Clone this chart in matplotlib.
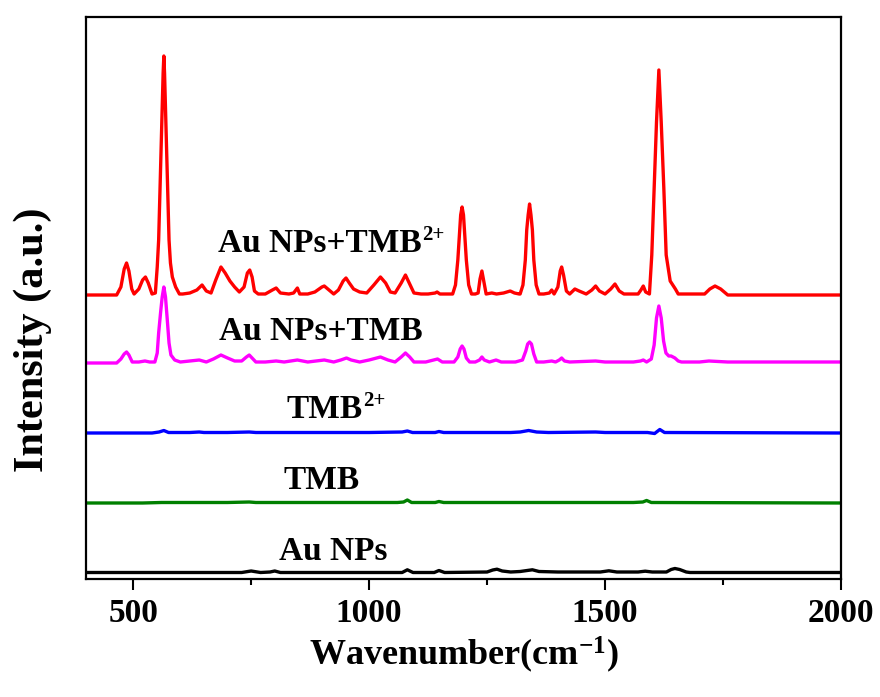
import matplotlib
matplotlib.use("Agg")
import matplotlib.pyplot as plt
from matplotlib.ticker import MultipleLocator, NullLocator

plt.rcParams['font.family'] = ['Liberation Serif', 'DejaVu Serif']
plt.rcParams['font.weight'] = 'bold'
plt.rcParams['mathtext.fontset'] = 'custom'
plt.rcParams['mathtext.rm'] = 'Liberation Serif:bold'
plt.rcParams['mathtext.bf'] = 'Liberation Serif:bold'
plt.rcParams['mathtext.it'] = 'Liberation Serif:bold'
plt.rcParams['mathtext.default'] = 'rm'

# ---------------------------------------------------------------
# Raman spectra: (wavenumber, intensity above
# the trace's own baseline), plus the vertical offset of each trace
# ---------------------------------------------------------------
au_tmb2_w = [400, 465, 474, 481, 486, 491, 497, 502, 512, 520, 526, 532, 540, 547, 551,
             554, 558, 562, 563.5, 565, 566.5, 568, 572, 576, 579, 583, 590, 598, 605, 620,
             635, 646, 655, 665, 675, 686, 695, 705, 715, 725, 735, 742, 747, 752, 757,
             765, 780, 795, 803, 812, 830, 840, 848, 853, 870, 885, 900, 905, 915, 925,
             935, 945, 951, 958, 967, 980, 995, 1010, 1024, 1035, 1045, 1055, 1068, 1077, 1085,
             1095, 1110, 1125, 1140, 1144, 1150, 1177, 1183, 1188, 1192, 1194, 1197, 1200, 1202, 1206,
             1211, 1217, 1225, 1231, 1235, 1239, 1243, 1248, 1260, 1270, 1285, 1299, 1308, 1318, 1320,
             1326, 1331, 1334, 1337, 1340, 1343, 1346, 1349, 1354, 1360, 1370, 1382, 1387, 1392, 1400,
             1405, 1408, 1412, 1418, 1425, 1436, 1445, 1460, 1472, 1480, 1488, 1500, 1512, 1521, 1530,
             1540, 1570, 1576, 1581, 1586, 1594, 1599, 1604, 1609, 1611.5, 1614, 1616.5, 1619, 1624.5, 1629.5,
             1638, 1649, 1655, 1670, 1711, 1722, 1733, 1745, 1760, 2000]
au_tmb2_i = [0, 0, 8, 26, 32, 24, 6, 1, 6, 15, 18, 12, 1, 2, 28,
             55, 125, 195, 222, 239, 222, 195, 125, 55, 32, 18, 8, 1, 1, 2,
             5, 10, 4, 2, 15, 28, 22, 14, 8, 3, 8, 22, 25, 18, 4,
             1, 1, 5, 7, 2, 1, 2, 7, 1, 1, 3, 8, 9, 5, 1,
             5, 14, 17, 12, 6, 3, 2, 10, 18, 12, 3, 2, 12, 20, 12,
             2, 1, 1, 2, 3, 1, 1, 10, 35, 65, 80, 88, 80, 65, 35,
             10, 1, 1, 2, 16, 24, 14, 1, 2, 1, 2, 4, 2, 1, 1,
             10, 35, 65, 80, 91, 80, 65, 35, 10, 1, 1, 2, 5, 1, 8,
             24, 28, 20, 4, 1, 6, 4, 1, 5, 9, 4, 1, 6, 11, 4,
             1, 1, 5, 9, 3, 1, 40, 107, 173, 200, 225, 200, 173, 107, 40,
             14, 6, 1, 1, 1, 6, 9, 6, 0, 0]

au_tmb_w = [400, 465, 474, 481, 486, 491, 498, 512, 525, 535, 546, 551, 554, 558, 561.5,
            565, 568.5, 572, 576, 580, 588, 600, 620, 640, 655, 670, 686, 700, 715, 730,
            740, 746, 752, 760, 780, 803, 820, 848, 870, 905, 925, 940, 952, 962, 980,
            1000, 1024, 1040, 1055, 1068, 1077, 1086, 1095, 1120, 1145, 1155, 1180, 1188, 1193, 1197,
            1201, 1206, 1213, 1225, 1234, 1239, 1244, 1255, 1269, 1280, 1310, 1325, 1332, 1336, 1340,
            1344, 1349, 1355, 1370, 1387, 1395, 1403, 1408, 1414, 1425, 1480, 1500, 1560, 1575, 1581,
            1588, 1598, 1604, 1609, 1614, 1619, 1624, 1629, 1635, 1640, 1648, 1655, 1662, 1700, 1720,
            1760, 1850, 2000]
au_tmb_i = [0, 0, 4, 9, 11, 8, 1, 1, 2, 1, 1, 10, 30, 50, 66,
            76, 66, 45, 20, 8, 3, 1, 2, 3, 1, 4, 8, 5, 2, 2,
            6, 8, 5, 1, 1, 2, 1, 3, 1, 3, 1, 3, 5, 3, 1,
            3, 6, 3, 1, 6, 10, 6, 1, 1, 4, 1, 1, 6, 14, 17,
            14, 5, 1, 1, 3, 6, 3, 1, 3, 1, 1, 3, 12, 19, 21,
            19, 9, 1, 1, 2, 1, 3, 5, 2, 1, 2, 1, 1, 2, 3,
            1, 4, 18, 45, 57, 45, 22, 10, 7, 7, 5, 2, 1, 1, 2,
            1, 1, 1]

tmb2_w = [400, 540, 555, 565, 575, 620, 640, 650, 700, 746, 760, 900, 1000, 1070, 1081,
          1092, 1140, 1148, 1158, 1300, 1320, 1338, 1355, 1380, 1480, 1500, 1590, 1605, 1616, 1626,
          2000]
tmb2_i = [0, 0, 1, 2.5, 0.5, 0.5, 1, 0.5, 0.5, 1, 0.5, 0.5, 0.5, 1, 2,
          0.5, 0.5, 1.5, 0.5, 0.5, 1, 2.5, 1, 0.5, 1, 0.5, 0.5, -0.5, 3.5, 0.5,
          0]

tmb_w = [400, 520, 560, 570, 700, 746, 760, 1060, 1073, 1081, 1090, 1140, 1148, 1158, 1560,
         1580, 1588, 1598, 2000]
tmb_i = [0, 0, 0.5, 0.5, 0.5, 1, 0.5, 0.5, 1, 3, 0.5, 0.5, 1.5, 0.5, 0.5,
         1, 2.5, 0.5, 0]

au_w = [400, 730, 750, 770, 790, 800, 812, 1070, 1081, 1093, 1138, 1148, 1160, 1250, 1262,
        1271, 1282, 1300, 1320, 1335, 1346, 1360, 1400, 1490, 1508, 1525, 1570, 1585, 1600, 1630,
        1640, 1648, 1658, 1672, 1680, 2000]
au_i = [0, 0, 1.5, 0, 0.5, 1.5, 0, 0, 2.7, 0, 0, 2, 0, 0.5, 2.5,
        3.3, 1.5, 0.5, 1, 2, 2.7, 1, 0.5, 0.5, 1.7, 0.5, 0.5, 1.3, 0.5, 0.5,
        3, 4, 3, 0.5, 0, 0]

offsets = [284, 216, 146, 76, 6.5]
colors = ['#ff0000', '#ff00ff', '#0000ff', '#008000', '#000000']
labels = ['Au NPs+TMB', 'Au NPs+TMB', 'TMB', 'TMB', 'Au NPs']
label_sup = ['2+', '', '2+', '', '']
label_x = [680, 681, 824, 818, 808]
label_y = [327, 239, 161, 90, 19]

xticks = [500, 1000, 1500, 2000]
xtick_labels = ['500', '1000', '1500', '2000']

spectra = [(au_tmb2_w, au_tmb2_i), (au_tmb_w, au_tmb_i), (tmb2_w, tmb2_i),
           (tmb_w, tmb_i), (au_w, au_i)]

fig = plt.figure(figsize=(8.8, 6.97), dpi=100)
ax = fig.add_axes([0.0977, 0.1693, 0.858, 0.8063])

for (w, inten), off, c in zip(spectra, offsets, colors):
    ax.plot(w, [v + off for v in inten], color=c, lw=2.4, solid_joinstyle='round')

# labels; the superscript is hung off the top-right corner of the main text
for txt, sup, tx, ty in zip(labels, label_sup, label_x, label_y):
    t = ax.text(tx, ty, txt, fontsize=24, fontweight='bold', ha='left', va='baseline')
    if sup:
        ax.annotate(sup, xy=(1, 1), xycoords=t, xytext=(0.5, 2), textcoords='offset points',
                    fontsize=15, fontweight='bold', ha='left', va='top')

ax.set_xlim(400, 2000)
ax.set_ylim(0, 562)
ax.set_xticks(xticks, xtick_labels, fontsize=24, fontweight='bold')
ax.xaxis.set_minor_locator(MultipleLocator(250))
ax.yaxis.set_major_locator(NullLocator())
ax.yaxis.set_minor_locator(NullLocator())
ax.tick_params(axis='x', which='major', direction='out', length=8, width=1.5, pad=6)
ax.tick_params(axis='x', which='minor', direction='out', length=4.5, width=1.5)
for sp in ax.spines.values():
    sp.set_linewidth(1.6)

ax.set_xlabel('Wavenumber(cm$^{-1}$)', fontsize=26, fontweight='bold', labelpad=4)
ax.set_ylabel('Intensity (a.u.)', fontsize=30.5, fontweight='bold')
ax.yaxis.set_label_coords(-0.045, 0.425)

fig.savefig('out.png', dpi=100)
